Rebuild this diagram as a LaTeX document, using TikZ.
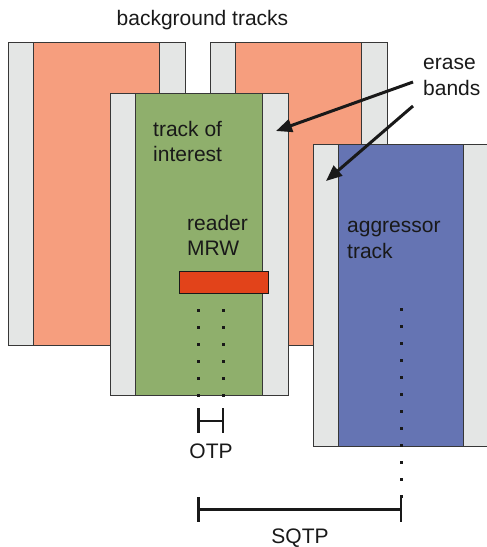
\documentclass[tikz,border=0pt]{standalone}
\usepackage{fontspec}
\setmainfont{Liberation Sans}
\usetikzlibrary{arrows.meta}

\definecolor{bandgray}{RGB}{228,230,229}
\definecolor{bgorange}{RGB}{246,158,126}
\definecolor{trackgreen}{RGB}{143,175,108}
\definecolor{aggblue}{RGB}{101,116,179}
\definecolor{readerred}{RGB}{226,67,26}
\definecolor{edgegray}{RGB}{55,55,55}
\definecolor{ink}{RGB}{25,25,25}

\tikzset{
  band/.style={fill=bandgray, draw=edgegray, line width=1pt},
  core/.style={draw=edgegray, line width=1pt},
  label/.style={font=\fontsize{21}{25.5}\selectfont, text=ink, inner sep=0pt, align=left},
  pointer/.style={-{Triangle[length=16pt,width=13pt]}, line width=3pt, draw=ink},
  dotline/.style={line width=3pt, dash pattern=on 3pt off 14pt, draw=ink},
  bar/.style={line width=2.5pt, draw=ink},
}

% a written track: two erase bands with the track core between them
% #1,#2 = top-left corner, #3,#4 = bottom-right corner, #5 = core colour
\newcommand\trackstrip[5]{%
  \draw[band] (#1,#2) rectangle (#3,#4);
  \draw[core, fill=#5] (#1+25.5,#2) rectangle (#3-25.5,#4);
}

\begin{document}
\begin{tikzpicture}[x=1pt, y=-1pt]
\useasboundingbox (0,0) rectangle (487,547);

% background tracks
\trackstrip{8}{42}{185}{345}{bgorange}
\trackstrip{210}{42}{387}{345}{bgorange}
\node[label, anchor=base west] (bgtext) at (116.5,25.7) {background tracks};

% track of interest with the reader
\trackstrip{110}{93}{288}{395}{trackgreen}
\node[label, anchor=north west] (toi) at (153,121) {track of\\interest};
\node[label, anchor=north west] (rdtext) at (187,215) {reader\\MRW};
\node[draw=ink, line width=1pt, fill=readerred, minimum width=89pt, minimum height=22pt,
      inner sep=0pt, anchor=north west] (reader) at (179,271) {};

% aggressor track
\trackstrip{313}{144}{489}{446}{aggblue}
\node[label, anchor=north west] (aggtext) at (347,221) {aggressor\\track};

% erase band callout
\node[label, anchor=north west] (erase) at (423,58) {erase\\bands};
\coordinate (tailA) at (413,82);
\coordinate (tailB) at (413,106);
\coordinate (tipA) at (276,131);
\coordinate (tipB) at (326,181);
\draw[pointer] (tailA) -- (tipA);
\draw[pointer] (tailB) -- (tipB);

% track pitch markers
\coordinate (otpL) at (198.5,309);
\coordinate (otpR) at (223,309);
\coordinate (sqR) at (401,308);
\draw[dotline] (otpL) -- (otpL |- 0,397);
\draw[dotline] (otpR) -- (otpR |- 0,397);
\draw[dotline] (sqR) -- (sqR |- 0,498);

% OTP bar
\draw[bar] (otpL |- 0,408) -- (otpL |- 0,433);
\draw[bar] (otpR |- 0,408) -- (otpR |- 0,433);
\draw[bar] (otpL |- 0,421) -- (otpR |- 0,421);
\node[label, anchor=base] (otp) at (211,458) {OTP};

% SQTP bar
\draw[bar] (otpL |- 0,497) -- (otpL |- 0,522);
\draw[bar] (sqR |- 0,497) -- (sqR |- 0,522);
\draw[bar] (otpL |- 0,509.5) -- (sqR |- 0,509.5);
\node[label, anchor=base] (sqtp) at (300,543.5) {SQTP};
\end{tikzpicture}
\end{document}
